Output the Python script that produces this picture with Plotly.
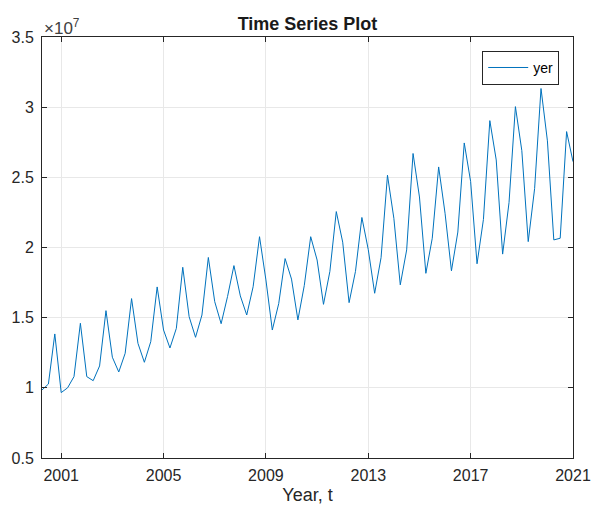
import plotly.graph_objects as go

# Quarterly observations, first quarter at 2000.25, values in units of 1e7
start_year = 2000.25
step = 0.25
yer = [
    0.985, 1.027, 1.384, 0.966, 1.000, 1.080, 1.460, 1.080, 1.051, 1.156,
    1.550, 1.218, 1.113, 1.246, 1.636, 1.317, 1.182, 1.329, 1.719, 1.412,
    1.284, 1.424, 1.859, 1.507, 1.360, 1.519, 1.929, 1.614, 1.457, 1.650,
    1.871, 1.655, 1.519, 1.720, 2.077, 1.769, 1.412, 1.600, 1.921, 1.775,
    1.484, 1.730, 2.077, 1.911, 1.595, 1.830, 2.256, 2.038, 1.607, 1.830,
    2.214, 1.985, 1.674, 1.928, 2.515, 2.208, 1.734, 1.983, 2.670, 2.360,
    1.816, 2.066, 2.574, 2.244, 1.834, 2.110, 2.745, 2.470, 1.884, 2.200,
    2.904, 2.624, 1.953, 2.320, 3.004, 2.690, 2.042, 2.420, 3.133, 2.760,
    2.054, 2.066, 2.826, 2.612,
]
scale = 1e7
t = [start_year + step * i for i in range(len(yer))]

x_ticks = [2001, 2005, 2009, 2013, 2017, 2021]
y_ticks = [0.5, 1.0, 1.5, 2.0, 2.5, 3.0, 3.5]
y_tick_text = ["0.5", "1", "1.5", "2", "2.5", "3", "3.5"]

axis_color = "#262626"
grid_color = "#e8e8e8"
font_family = "Liberation Sans, Arial, Helvetica, sans-serif"

fig = go.Figure()
fig.add_trace(go.Scatter(
    x=t,
    y=[v * scale for v in yer],
    mode="lines",
    name="yer",
    line=dict(color="#0072BD", width=1),
))

fig.update_layout(
    width=592,
    height=508,
    margin=dict(l=42, r=19, t=37, b=50),
    paper_bgcolor="white",
    plot_bgcolor="white",
    font=dict(family=font_family, color=axis_color, size=15),
    title=dict(
        text="<b>Time Series Plot</b>",
        x=0.5 * (42 + 573) / 592,
        xanchor="center",
        y=1 - 24 / 508,
        yanchor="middle",
        yref="container",
        font=dict(size=18, color="#1a1a1a", family=font_family),
    ),
    showlegend=True,
    legend=dict(
        x=0.974,
        y=0.967,
        xanchor="right",
        yanchor="top",
        bordercolor=axis_color,
        borderwidth=1,
        bgcolor="white",
        font=dict(size=14, color="#000000"),
        itemwidth=40,
        tracegroupgap=0,
    ),
)

fig.update_xaxes(
    range=[t[0], t[-1]],
    tickvals=x_ticks,
    ticktext=[str(v) for v in x_ticks],
    ticks="inside",
    ticklen=5,
    tickcolor=axis_color,
    showline=True,
    linecolor=axis_color,
    linewidth=1,
    mirror="ticks",
    showgrid=True,
    gridcolor=grid_color,
    gridwidth=1,
    zeroline=False,
    automargin=False,
    ticklabelstandoff=3,
    tickfont=dict(size=16, color=axis_color),
    title=dict(text="Year, t", font=dict(size=18, color=axis_color), standoff=5),
)

fig.update_yaxes(
    range=[y_ticks[0] * scale, y_ticks[-1] * scale],
    tickvals=[v * scale for v in y_ticks],
    ticktext=y_tick_text,
    ticks="inside",
    ticklen=5,
    tickcolor=axis_color,
    showline=True,
    linecolor=axis_color,
    linewidth=1,
    mirror="ticks",
    showgrid=True,
    gridcolor=grid_color,
    gridwidth=1,
    zeroline=False,
    automargin=False,
    ticklabelstandoff=4,
    tickfont=dict(size=16, color=axis_color),
)

# exponent marker above the y axis
fig.add_annotation(
    text="×10<sup>7</sup>",
    xref="paper",
    yref="paper",
    x=0,
    y=1,
    xanchor="left",
    yanchor="bottom",
    showarrow=False,
    font=dict(size=17, color="#404040", family=font_family),
    yshift=-3,
)

fig.write_html("out.html")
